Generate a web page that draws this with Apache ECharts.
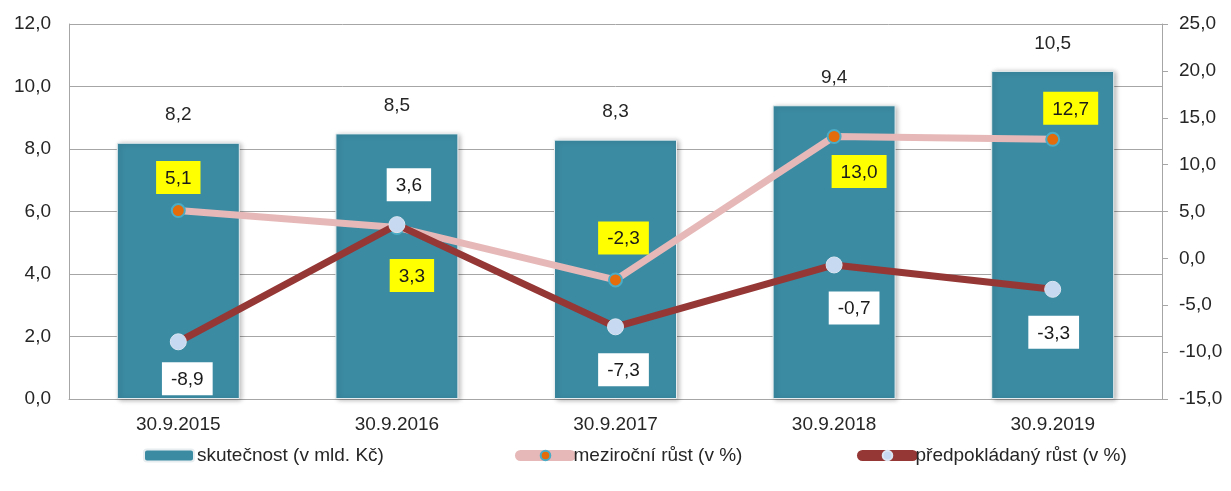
<!DOCTYPE html>
<html>
<head>
<meta charset="utf-8">
<script src="https://cdn.jsdelivr.net/npm/echarts@6/dist/echarts.min.js"></script>
<style>
html,body{margin:0;padding:0;background:#fff;}
#chart{width:1231px;height:491px;}
</style>
</head>
<body>
<div id="chart"></div>
<script>
const categories = ['30.9.2015', '30.9.2016', '30.9.2017', '30.9.2018', '30.9.2019'];
const actualValues = [8.2, 8.5, 8.3, 9.4, 10.5];
const yoyGrowth = [5.1, 3.3, -2.3, 13.0, 12.7];
const expectedGrowth = [-8.9, 3.6, -7.3, -0.7, -3.3];
const seriesNames = ['skutečnost (v mld. Kč)', 'meziroční růst (v %)', 'předpokládaný růst (v %)'];

// label placement (style only): [position, distance, x offset]
const yoyPlace = [['top', 9, 0], ['bottom', 24, 15], ['top', 18, 8], ['bottom', 11, 25], ['top', 7, 18]];
const expPlace = [['bottom', 12, 9], ['top', 15, 12], ['bottom', 18, 8], ['bottom', 18, 20], ['bottom', 18, 1]];

const FONT = '"Liberation Sans", Arial, sans-serif';
const FS = 19;
const fmt = v => v.toFixed(1).replace('.', ',');

function withLabels(values, place) {
  return values.map((v, i) => ({
    value: v,
    label: {
      position: place[i][0],
      distance: place[i][1],
      offset: [place[i][2], 0]
    }
  }));
}

const chart = echarts.init(document.getElementById('chart'), null, {renderer: 'canvas'});
const legendBase = {
  top: 446,
  padding: 0,
  itemWidth: 50,
  itemHeight: 12,
  itemGap: 0,
  textStyle: {fontFamily: FONT, fontSize: FS, color: '#262626', padding: [0, 0, 0, -2]},
  selectedMode: false
};
chart.setOption({
  animation: false,
  textStyle: {fontFamily: FONT},
  grid: {left: 69, right: 69, top: 24, bottom: 92},
  legend: [
    Object.assign({}, legendBase, {left: 143, data: [seriesNames[0]]}),
    Object.assign({}, legendBase, {left: 515, data: [seriesNames[1]], lineStyle: {width: 11, cap: 'round'}}),
    Object.assign({}, legendBase, {left: 857, data: [seriesNames[2]], lineStyle: {width: 11, cap: 'round'}})
  ],
  xAxis: {
    type: 'category',
    data: categories,
    axisLine: {show: true, lineStyle: {color: '#a6a6a6', width: 1}},
    axisTick: {show: false},
    axisLabel: {fontFamily: FONT, fontSize: FS, color: '#262626', margin: 16}
  },
  yAxis: [
    {
      type: 'value', min: 0, max: 12, interval: 2,
      axisLine: {show: true, lineStyle: {color: '#a6a6a6'}},
      axisTick: {show: false},
      splitLine: {show: true, lineStyle: {color: '#a6a6a6', width: 1}},
      axisLabel: {fontFamily: FONT, fontSize: FS, color: '#262626', margin: 18, formatter: v => fmt(v)}
    },
    {
      type: 'value', min: -15, max: 25, interval: 5,
      position: 'right',
      axisLine: {show: true, lineStyle: {color: '#a6a6a6'}},
      axisTick: {show: true, inside: false, length: 6, lineStyle: {color: '#a6a6a6'}},
      splitLine: {show: false},
      axisLabel: {fontFamily: FONT, fontSize: FS, color: '#262626', margin: 17, formatter: v => fmt(v)}
    }
  ],
  series: [
    {
      name: seriesNames[0],
      type: 'bar',
      yAxisIndex: 0,
      data: actualValues,
      barWidth: 123,
      itemStyle: {
        color: '#3b8ba3',
        borderColor: '#e8eef0',
        borderWidth: 1,
        shadowColor: 'rgba(0,0,0,0.3)',
        shadowBlur: 5,
        shadowOffsetX: 2,
        shadowOffsetY: 1
      },
      label: {
        show: true, position: 'top', distance: 18,
        fontFamily: FONT, fontSize: FS, color: '#262626',
        formatter: p => fmt(p.value)
      },
      z: 1
    },
    {
      name: seriesNames[1],
      type: 'line',
      yAxisIndex: 1,
      data: withLabels(yoyGrowth, yoyPlace),
      lineStyle: {color: '#e6b9b8', width: 7},
      symbol: 'circle',
      symbolSize: 13,
      itemStyle: {color: '#e46c0a', borderColor: '#4bacc6', borderWidth: 2},
      label: {
        show: true,
        fontFamily: FONT, fontSize: FS, color: '#1a1a1a',
        backgroundColor: '#ffff00',
        padding: [8, 9, 6, 9],
        formatter: p => fmt(p.value)
      },
      z: 3
    },
    {
      name: seriesNames[2],
      type: 'line',
      yAxisIndex: 1,
      data: withLabels(expectedGrowth, expPlace),
      lineStyle: {color: '#953735', width: 7},
      symbol: 'circle',
      symbolSize: 16,
      itemStyle: {color: '#c6d9f1', borderColor: '#dce6f2', borderWidth: 1},
      label: {
        show: true,
        fontFamily: FONT, fontSize: FS, color: '#1a1a1a',
        backgroundColor: '#ffffff',
        padding: [8, 9, 6, 9],
        formatter: p => fmt(p.value)
      },
      z: 4
    }
  ]
});
</script>
</body>
</html>
